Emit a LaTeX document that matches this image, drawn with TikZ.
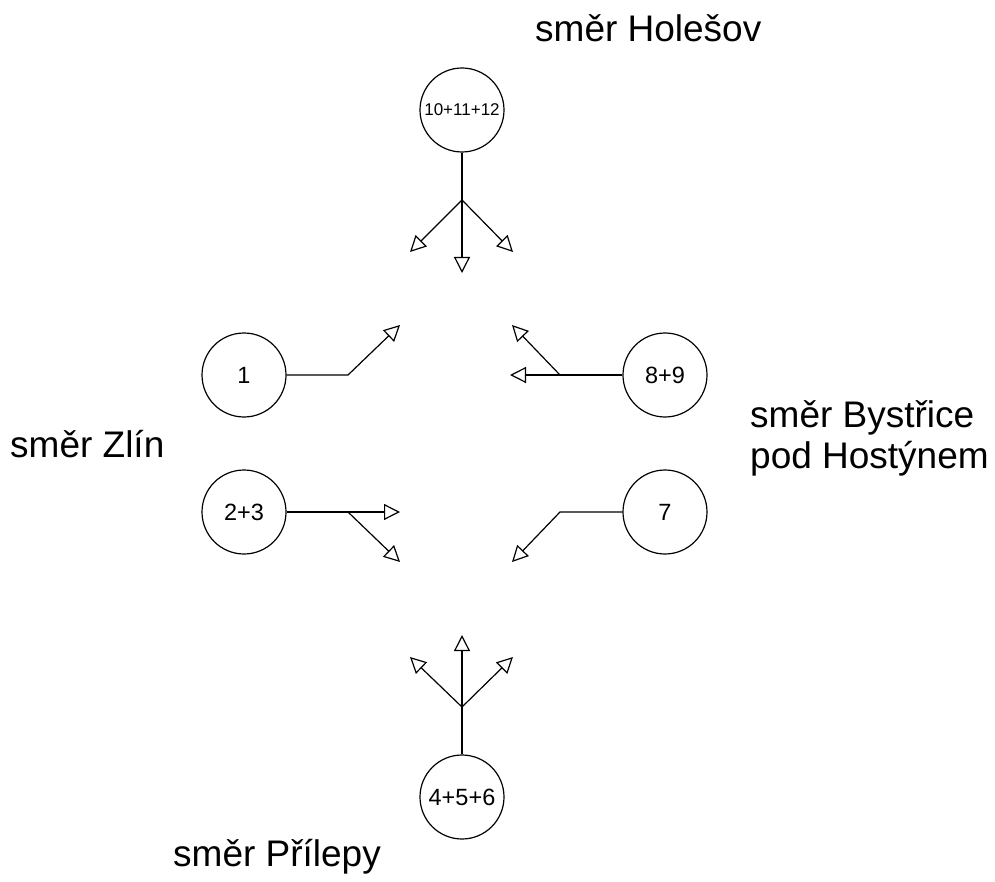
\documentclass[tikz,border=0pt]{standalone}
\usepackage{fontspec}
\setmainfont{Liberation Sans}
\usetikzlibrary{arrows.meta}
\begin{document}
\begin{tikzpicture}[x=1pt,y=-1pt,
  lane/.style={circle,draw,line width=1.2pt,minimum size=84pt,inner sep=0pt,font=\fontsize{23.5}{28}\selectfont},
  small/.style={font=\fontsize{17}{20}\selectfont},
  flow/.style={line width=1.2pt,-{Triangle[open,length=16pt,width=16pt,line width=1.2pt]}},
  stem/.style={line width=1.2pt},
  lbl/.style={anchor=base west,inner sep=0pt,font=\fontsize{37}{41}\selectfont,align=left}]
\useasboundingbox (0,0) rectangle (995,882);

% north
\node[lane,small] (n) at (462,110) {10+11+12};
\coordinate (nb) at (462,200);
\coordinate (nt1) at (410,252);
\coordinate (nt2) at (462,273);
\coordinate (nt3) at (513,252);
\draw[stem] (n) -- (nb);
\draw[flow] (nb) -- (nt1);
\draw[flow] (nb) -- (nt2);
\draw[flow] (nb) -- (nt3);

% west
\node[lane] (w1) at (244,375) {1};
\coordinate (w1b) at (348,375);
\coordinate (w1t) at (400,325);
\draw[flow] (w1) -- (w1b) -- (w1t);

\node[lane] (w2) at (244,512) {2+3};
\coordinate (w2b) at (348,512);
\coordinate (w2t1) at (400,512);
\coordinate (w2t2) at (400,562);
\draw[stem] (w2) -- (w2b);
\draw[flow] (w2b) -- (w2t1);
\draw[flow] (w2b) -- (w2t2);

% east
\node[lane] (e1) at (665,375) {8+9};
\coordinate (e1b) at (560,375);
\coordinate (e1t1) at (510,375);
\coordinate (e1t2) at (512,325);
\draw[stem] (e1) -- (e1b);
\draw[flow] (e1b) -- (e1t1);
\draw[flow] (e1b) -- (e1t2);

\node[lane] (e2) at (665,512) {7};
\coordinate (e2b) at (560,512);
\coordinate (e2t) at (512,562);
\draw[flow] (e2) -- (e2b) -- (e2t);

% south
\node[lane] (s) at (462,797) {4+5+6};
\coordinate (sb) at (462,707);
\coordinate (st1) at (410,657);
\coordinate (st2) at (462,635);
\coordinate (st3) at (513,657);
\draw[stem] (s) -- (sb);
\draw[flow] (sb) -- (st1);
\draw[flow] (sb) -- (st2);
\draw[flow] (sb) -- (st3);

% labels
\node[lbl] (ln) at (535,42) {směr Holešov};
\node[lbl] (lw) at (10,457) {směr Zlín};
\node[lbl] (le) at (750,468) {směr Bystřice\\pod Hostýnem};
\node[lbl] (ls) at (173,866) {směr Přílepy};
\end{tikzpicture}
\end{document}
